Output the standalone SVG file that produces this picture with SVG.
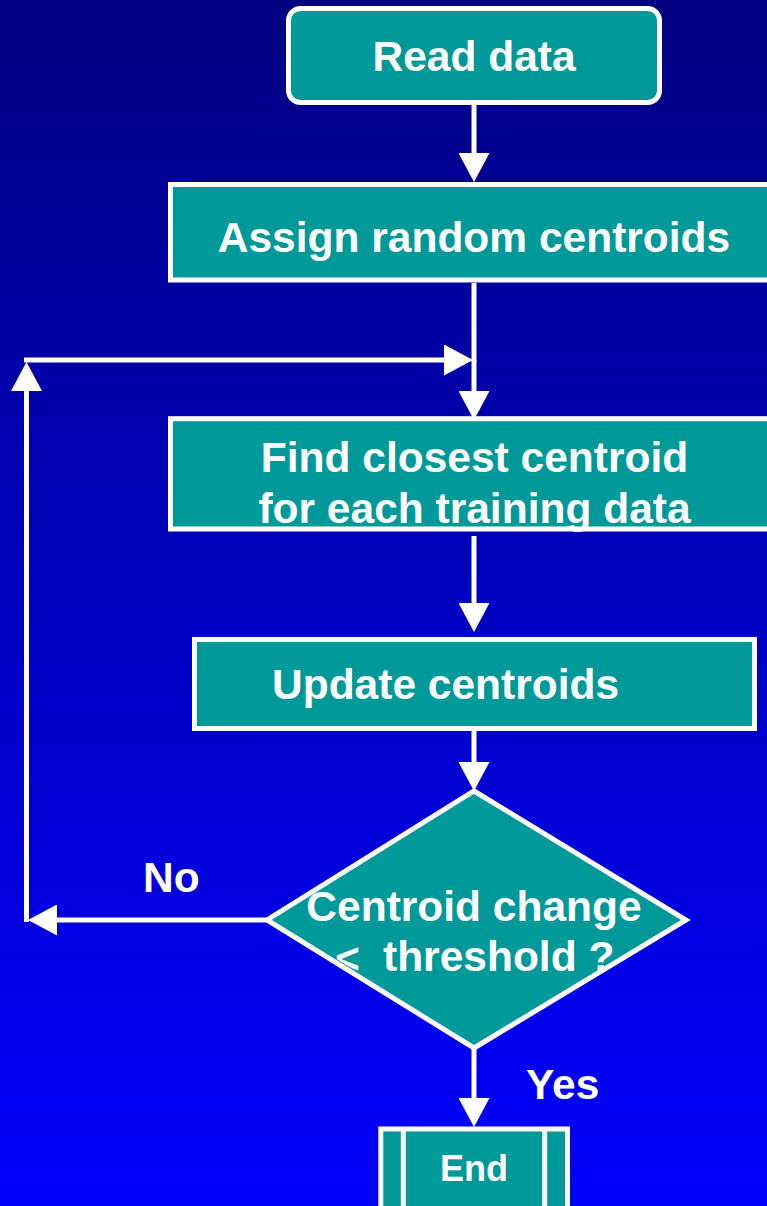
<svg xmlns="http://www.w3.org/2000/svg" width="767" height="1206" viewBox="0 0 767 1206">
  <defs>
    <linearGradient id="bg" x1="0" y1="0" x2="0" y2="1">
      <stop offset="0" stop-color="#000080"/>
      <stop offset="1" stop-color="#0000FF"/>
    </linearGradient>
    <marker id="arrow" markerUnits="userSpaceOnUse" markerWidth="31" markerHeight="31" refX="0" refY="15.5" orient="auto" viewBox="0 0 31 31">
      <path d="M0,0 L29,15.5 L0,31 Z" fill="#FFFFFF"/>
    </marker>
    <clipPath id="diamondClip">
      <polygon points="474,787 686,916 474,1044 267,916"/>
    </clipPath>
    <style>
      .box { fill: #009999; stroke: #FFFFFF; stroke-width: 5; }
      .lbl { font-family: "Liberation Sans", Arial, sans-serif; font-weight: bold; font-size: 42.5px; fill: #FFFFFF; }
      .mid { text-anchor: middle; }
      .conn { fill: none; stroke: #FFFFFF; stroke-width: 5; marker-end: url(#arrow); }
      .plain { fill: none; stroke: #FFFFFF; stroke-width: 5; }
    </style>
  </defs>

  <rect x="0" y="0" width="767" height="1206" fill="url(#bg)"/>

  <g id="connectors">
    <path class="conn" d="M474,105 V153"/>
    <path class="conn" d="M474,283 V391"/>
    <path class="conn" d="M474,536 V603"/>
    <path class="conn" d="M474,731 V762"/>
    <path class="conn" d="M474,1048 V1098"/>
    <path class="conn" d="M267,920 H57"/>
    <path class="conn" d="M26.5,922 V391"/>
    <path class="conn" d="M24,360 H444"/>
    <path class="plain" d="M474,360 V362"/>
  </g>

  <g id="node-read">
    <rect class="box" x="288.5" y="8.5" width="371" height="94" rx="12" ry="12"/>
    <text class="lbl mid" x="474" y="71">Read data</text>
  </g>

  <g id="node-assign">
    <rect class="box" x="170.5" y="184.5" width="610" height="95.5"/>
    <text class="lbl mid" x="474" y="252">Assign random centroids</text>
  </g>

  <g id="node-find">
    <rect class="box" x="170.5" y="418.7" width="610" height="110.3"/>
    <text class="lbl mid" x="474.5" y="472">Find closest centroid</text>
    <text class="lbl mid" x="474.5" y="523">for each training data</text>
  </g>

  <g id="node-update">
    <rect class="box" x="194.5" y="639.5" width="560" height="89"/>
    <text class="lbl" x="272" y="699">Update centroids</text>
  </g>

  <g id="node-decision">
    <polygon class="box" points="474,791 686,920 474,1048 267,920"/>
    <text class="lbl mid" x="474" y="921">Centroid change</text>
    <text class="lbl" x="335" y="973" clip-path="url(#diamondClip)">&lt;</text>
    <text class="lbl" x="383" y="971">threshold ?</text>
  </g>

  <g id="label-no">
    <text class="lbl" x="143" y="892">No</text>
  </g>

  <g id="label-yes">
    <text class="lbl" x="526" y="1099">Yes</text>
  </g>

  <g id="node-end">
    <rect class="box" x="380.8" y="1129" width="186.7" height="90"/>
    <line class="plain" x1="403.3" y1="1129" x2="403.3" y2="1219"/>
    <line class="plain" x1="544.7" y1="1129" x2="544.7" y2="1219"/>
    <text class="lbl mid" x="474" y="1181" style="font-size:36px">End</text>
  </g>
</svg>
